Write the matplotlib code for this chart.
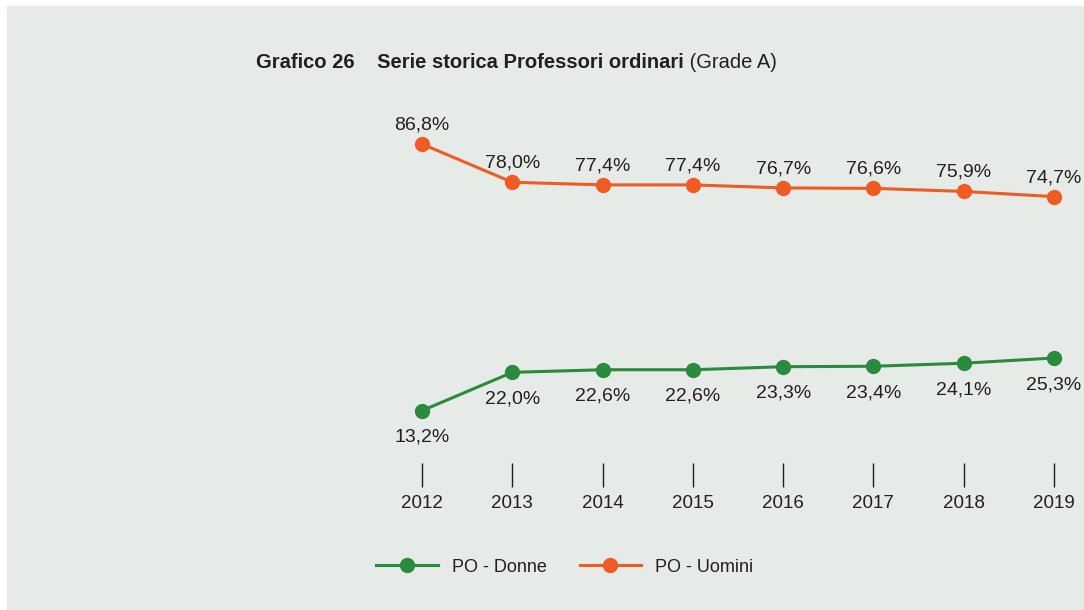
import matplotlib.pyplot as plt
from matplotlib.patches import Rectangle
from matplotlib.lines import Line2D

years = [2012, 2013, 2014, 2015, 2016, 2017, 2018, 2019]
donne = [13.2, 22.0, 22.6, 22.6, 23.3, 23.4, 24.1, 25.3]
uomini = [86.8, 78.0, 77.4, 77.4, 76.7, 76.6, 75.9, 74.7]

green = '#2a8a3e'
orange = '#ef5b24'
bg = '#e6ebe7'
txt = '#231f20'

plt.rcParams['font.family'] = ['Liberation Sans Narrow', 'Liberation Sans', 'DejaVu Sans']

W, H = 1084, 610
fig = plt.figure(figsize=(W / 100, H / 100), dpi=100)
fig.patch.set_facecolor('white')
fig.patches.append(Rectangle((7 / W, 0), 1, 1 - 6 / H, transform=fig.transFigure,
                             facecolor=bg, edgecolor='none', zorder=-10))


def px_axes(x0, y0, x1, y1):
    # pixel box (top-left origin) -> figure axes
    return fig.add_axes([x0 / W, 1 - y1 / H, (x1 - x0) / W, (y1 - y0) / H])


ppu = 4.35          # pixels per percentage point
ppy = (1054 - 422) / 7.0
xl = (2012 - 22 / ppy, 2019 + 22 / ppy)

# top panel: Uomini
ax_top = px_axes(400, 100, 1076, 240)
ax_top.set_ylim(86.8 - (240 - 144) / ppu, 86.8 + (144 - 100) / ppu)
# bottom panel: Donne, with year ticks
ax_bot = px_axes(400, 330, 1076, 487)
ax_bot.set_ylim(25.3 - (487 - 358) / ppu, 25.3 + (358 - 330) / ppu)

for ax in (ax_top, ax_bot):
    ax.set_xlim(*xl)
    ax.patch.set_visible(False)
    for s in ax.spines.values():
        s.set_visible(False)
    ax.set_yticks([])
    ax.set_xticks([])

ax_top.plot(years, uomini, color=orange, lw=2.2, marker='o', ms=10, zorder=3)
for x, v in zip(years, uomini):
    ax_top.annotate(f'{v:.1f}%'.replace('.', ','), (x, v), xytext=(0, 7.5),
                    textcoords='offset points', ha='center', va='bottom',
                    fontsize=14, color=txt)

ax_bot.plot(years, donne, color=green, lw=2.2, marker='o', ms=10, zorder=3)
for x, v in zip(years, donne):
    ax_bot.annotate(f'{v:.1f}%'.replace('.', ','), (x, v), xytext=(0, -13),
                    textcoords='offset points', ha='center', va='top',
                    fontsize=14, color=txt)

ax_bot.set_xticks(years)
ax_bot.set_xticklabels([str(y) for y in years])
ax_bot.tick_params(axis='x', direction='in', length=17, width=1, color=txt,
                   labelsize=13.5, labelcolor=txt, pad=6)

t1 = fig.text(256 / W, 1 - 62 / H, 'Grafico 26    Serie storica Professori ordinari',
              fontsize=14.5, fontweight='bold', color=txt, va='center', ha='left')
fig.add_artist(plt.Annotation(' (Grade A)', xy=(1, 0), xycoords=t1,
                              va='bottom', ha='left', fontsize=14.5, color=txt))

handles = [Line2D([], [], color=green, lw=2.2, marker='o', ms=10),
           Line2D([], [], color=orange, lw=2.2, marker='o', ms=10)]
fig.legend(handles, ['PO - Donne', 'PO - Uomini'], loc='center',
           bbox_to_anchor=(565 / W, 1 - 567 / H), ncol=2, frameon=False,
           fontsize=13, handlelength=3.4, handletextpad=0.8, columnspacing=1.8,
           labelcolor=txt)

fig.savefig('out.png', dpi=100, facecolor=fig.get_facecolor())
